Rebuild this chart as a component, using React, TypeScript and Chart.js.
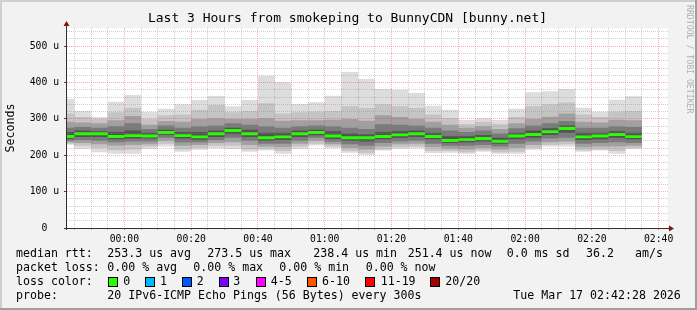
import { useEffect, useRef } from 'react';
import { Chart, registerables } from 'chart.js';

Chart.register(...registerables);

// ---- data (minutes relative to 00:00, values in microseconds) ----
const colStarts = [-17.2, -15, -10, -5, 0, 5, 10, 15, 20, 25, 30, 35, 40, 45, 50, 55, 60, 65, 70, 75, 80, 85, 90, 95, 100, 105, 110, 115, 120, 125, 130, 135, 140, 145, 150];
const colEnd = 155;
const xMin = -17.2;
const xMax = 162.8;

const maxV = [355, 322, 305, 347, 366, 319, 328, 340, 352, 363, 335, 352, 419, 401, 341, 346, 364, 429, 410, 382, 380, 371, 336, 325, 297, 302, 297, 328, 373, 376, 382, 331, 320, 353, 362];
const hi2 = [315, 305, 300, 318, 330, 300, 310, 312, 325, 338, 318, 322, 343, 315, 318, 320, 322, 335, 330, 340, 335, 330, 312, 302, 286, 292, 286, 305, 335, 340, 345, 312, 305, 320, 322];
const hi3 = [292, 290, 288, 296, 308, 284, 294, 292, 300, 302, 300, 300, 302, 295, 296, 296, 298, 300, 295, 310, 305, 300, 292, 284, 276, 280, 272, 288, 300, 306, 315, 292, 290, 298, 296];
const hi4 = [276, 278, 276, 280, 288, 272, 282, 276, 280, 282, 288, 284, 280, 276, 280, 282, 280, 276, 272, 285, 284, 282, 276, 268, 264, 268, 260, 274, 282, 288, 294, 276, 276, 280, 278];
const hi5 = [264, 268, 266, 264, 268, 262, 270, 264, 264, 268, 276, 270, 262, 262, 268, 270, 266, 260, 258, 264, 266, 268, 262, 252, 252, 256, 248, 262, 268, 274, 282, 262, 262, 266, 262];
const median = [251.5, 259, 259, 251.5, 254, 253, 262.6, 254, 250.7, 259, 268, 259, 248, 250.7, 259, 262.6, 253, 248, 248, 251.5, 256, 259, 251.5, 240.6, 243, 246, 238.4, 253, 257, 265, 273.5, 250.7, 253, 257, 251.4];
const lo5 = [245, 250, 250, 244, 246, 246, 256, 246, 243, 250, 258, 250, 240, 242, 250, 255, 245, 240, 238, 244, 248, 250, 244, 234, 236, 238, 232, 244, 248, 256, 262, 242, 244, 248, 244];
const lo4 = [240, 242, 240, 236, 238, 238, 248, 236, 236, 242, 248, 240, 232, 232, 240, 248, 237, 230, 226, 234, 238, 240, 232, 226, 226, 228, 224, 232, 238, 246, 248, 232, 234, 236, 234];
const lo3 = [236, 234, 230, 226, 228, 230, 240, 226, 228, 234, 236, 228, 224, 222, 232, 240, 230, 220, 216, 224, 230, 232, 222, 218, 216, 220, 216, 220, 228, 236, 238, 222, 224, 224, 226];
const lo2 = [232, 226, 220, 214, 216, 224, 232, 216, 220, 226, 226, 216, 218, 212, 224, 232, 224, 212, 206, 216, 222, 224, 212, 212, 208, 214, 208, 210, 220, 228, 230, 214, 216, 212, 220];
const minV = [229, 218, 208, 204, 204, 217, 224, 210, 215, 219, 217, 210, 213, 204, 218, 227, 219, 207, 201, 213, 218, 219, 206, 207, 204, 210, 204, 204, 215, 224, 224, 210, 213, 204, 217];

const yMax = 550;
const medianHalf = 4;

const titleText = 'Last 3 Hours from smokeping to BunnyCDN [bunny.net]';
const yTitle = 'Seconds';
const watermark = 'RRDTOOL / TOBI OETIKER';

const rttTexts = ['median rtt:', '253.3 us avg', '273.5 us max', '238.4 us min', '251.4 us now', '0.0 ms sd', '36.2', 'am/s'];
const lossTexts = ['packet loss:', '0.00 % avg', '0.00 % max', '0.00 % min', '0.00 % now'];
const lossColorTitle = 'loss color:';
const lossLabels = ['0', '1', '2', '3', '4-5', '6-10', '11-19', '20/20'];
const lossColors = ['#26ff00', '#00b8ff', '#0059ff', '#7e00ff', '#ff00ff', '#ff5500', '#ff0000', '#a00000'];
const probeTexts = ['probe:', '20 IPv6-ICMP Echo Pings (56 Bytes) every 300s', 'Tue Mar 17 02:42:28 2026'];

// ---- layout ----
const W = 697;
const H = 310;
const rttX = [16, 107.3, 207.3, 313.3, 407.7, 506.7, 586, 635];
const lossX = [16, 107.3, 193.3, 279.3, 365.7];
const boxX = [108, 145, 182, 219, 256, 307, 365, 430];
const boxLabelX = [123.3, 160, 196.7, 233.3, 270.7, 322, 380.7, 445.3];
const probeX = [16, 107.3, 513.3];
const MONO = '"DejaVu Sans Mono", monospace';

const pad2 = (n: number) => String(n).padStart(2, '0');

export default function App() {
  const ref = useRef<HTMLCanvasElement>(null);

  useEffect(() => {
    document.body.style.margin = '0';
    const canvas = ref.current;
    if (!canvas) return;

    const pts = (arr: number[]) => [
      ...colStarts.map((x, i) => ({ x, y: arr[i] })),
      { x: colEnd, y: arr[arr.length - 1] },
    ];
    const medLo = median.map((m) => m - medianHalf);
    const medHi = median.map((m) => m + medianHalf);

    const base = {
      type: 'line' as const,
      stepped: true,
      pointRadius: 0,
      pointHoverRadius: 0,
      borderWidth: 0,
      borderColor: 'rgba(0,0,0,0)',
    };
    const band = (lo: number[], hi: number[], color: string, order: number) => [
      { ...base, data: pts(lo), fill: false, order },
      { ...base, data: pts(hi), fill: '-1', backgroundColor: color, order },
    ];

    const datasets: any[] = [
      ...band(minV, maxV, '#dddddd', 10),
      ...band(lo2, hi2, '#c4c4c4', 8),
      ...band(lo3, hi3, '#a0a0a0', 6),
      ...band(lo4, hi4, '#7a7a7a', 4),
      ...band(lo5, hi5, '#535353', 2),
      ...band(medLo, medHi, lossColors[0], 0),
    ];

    const xGrid: number[] = [];
    for (let v = -15; v <= 160; v += 5) xGrid.push(v);
    const yGrid: number[] = [];
    for (let v = 0; v <= 540; v += 20) yGrid.push(v);

    const minorGrid = 'rgba(140,140,140,0.42)';
    const majorGrid = 'rgba(230,60,60,0.4)';

    const decor = {
      id: 'decor',
      beforeDraw(chart: any) {
        const { ctx, chartArea: ca } = chart;
        ctx.save();
        ctx.fillStyle = '#f2f2f2';
        ctx.fillRect(0, 0, W, H);
        ctx.fillStyle = '#cfcfcf';
        ctx.fillRect(0, 0, W, 2);
        ctx.fillRect(0, 0, 2, H);
        ctx.fillStyle = '#9e9e9e';
        ctx.fillRect(0, H - 2, W, 2);
        ctx.fillRect(W - 2, 0, 2, H);
        ctx.fillStyle = '#ffffff';
        ctx.fillRect(ca.left, ca.top, ca.right - ca.left, ca.bottom - ca.top);
        ctx.restore();
      },
      afterDraw(chart: any) {
        const { ctx, chartArea: ca } = chart;
        ctx.save();
        // axes
        ctx.strokeStyle = '#303030';
        ctx.lineWidth = 1;
        ctx.beginPath();
        ctx.moveTo(ca.left - 0.5, ca.bottom + 2);
        ctx.lineTo(ca.left - 0.5, ca.top - 3);
        ctx.moveTo(ca.left - 3, ca.bottom + 0.5);
        ctx.lineTo(ca.right + 2, ca.bottom + 0.5);
        ctx.stroke();
        ctx.fillStyle = '#8b1010';
        ctx.beginPath();
        ctx.moveTo(ca.left - 0.5, ca.top - 7);
        ctx.lineTo(ca.left - 3.5, ca.top - 2);
        ctx.lineTo(ca.left + 2.5, ca.top - 2);
        ctx.closePath();
        ctx.fill();
        ctx.beginPath();
        ctx.moveTo(ca.right + 6, ca.bottom + 0.5);
        ctx.lineTo(ca.right + 1, ca.bottom - 2.5);
        ctx.lineTo(ca.right + 1, ca.bottom + 3.5);
        ctx.closePath();
        ctx.fill();

        // title
        ctx.fillStyle = '#000';
        ctx.font = `13px ${MONO}`;
        ctx.textAlign = 'center';
        ctx.textBaseline = 'middle';
        ctx.fillText(titleText, 347.5, 19);

        // y title
        ctx.save();
        ctx.translate(11, 128);
        ctx.rotate(-Math.PI / 2);
        ctx.font = `11.6px ${MONO}`;
        ctx.fillText(yTitle, 0, 0);
        ctx.restore();

        // watermark
        ctx.save();
        ctx.translate(689, 5);
        ctx.rotate(Math.PI / 2);
        ctx.font = `8.2px ${MONO}`;
        ctx.fillStyle = '#b0b0b0';
        ctx.textAlign = 'left';
        ctx.fillText(watermark, 0, 0);
        ctx.restore();

        // legend
        ctx.font = `11.6px ${MONO}`;
        ctx.textAlign = 'left';
        ctx.textBaseline = 'middle';
        ctx.fillStyle = '#000';
        rttTexts.forEach((t, i) => ctx.fillText(t, rttX[i], 254));
        lossTexts.forEach((t, i) => ctx.fillText(t, lossX[i], 268));
        ctx.fillText(lossColorTitle, 16, 282);
        lossLabels.forEach((t, i) => {
          ctx.fillStyle = lossColors[i];
          ctx.fillRect(boxX[i], 277, 10, 10);
          ctx.strokeStyle = '#000';
          ctx.strokeRect(boxX[i] + 0.5, 277.5, 9, 9);
          ctx.fillStyle = '#000';
          ctx.fillText(t, boxLabelX[i], 282);
        });
        probeTexts.forEach((t, i) => ctx.fillText(t, probeX[i], 296));
        ctx.restore();
      },
    };

    const chart = new Chart(canvas, {
      type: 'line',
      data: { datasets },
      options: {
        responsive: false,
        animation: false,
        events: [],
        layout: { padding: { left: 0, right: 29, top: 28, bottom: 62 } },
        plugins: {
          legend: { display: false },
          tooltip: { enabled: false },
          title: { display: false },
        },
        scales: {
          x: {
            type: 'linear',
            min: xMin,
            max: xMax,
            afterBuildTicks: (s: any) => {
              s.ticks = xGrid.map((value) => ({ value }));
            },
            afterFit: (s: any) => {
              s.height = 20;
            },
            grid: {
              z: 1,
              color: (c: any) => (c.tick && c.tick.value % 20 === 0 ? majorGrid : minorGrid),
              tickColor: (c: any) => (c.tick && c.tick.value % 20 === 0 ? 'rgba(220,60,60,0.7)' : 'rgba(140,140,140,0.6)'),
              tickLength: 2,
              drawTicks: true,
            },
            border: { display: false, dash: [1, 1] },
            ticks: {
              autoSkip: false,
              maxRotation: 0,
              padding: 4,
              color: '#000',
              font: { family: MONO, size: 9.75 },
              callback: (v: any) => {
                const n = Number(v);
                if (n % 20 !== 0) return '';
                return `${pad2(Math.floor(n / 60))}:${pad2(n % 60)}`;
              },
            },
          },
          y: {
            type: 'linear',
            min: 0,
            max: yMax,
            afterBuildTicks: (s: any) => {
              s.ticks = yGrid.map((value) => ({ value }));
            },
            afterFit: (s: any) => {
              s.width = 67;
            },
            grid: {
              z: 1,
              color: (c: any) => (c.tick && c.tick.value % 100 === 0 ? majorGrid : minorGrid),
              tickColor: (c: any) => (c.tick && c.tick.value % 100 === 0 ? '#444' : 'rgba(0,0,0,0)'),
              tickLength: 3,
              drawTicks: true,
            },
            border: { display: false, dash: [1, 1] },
            ticks: {
              autoSkip: false,
              padding: 5,
              color: '#000',
              font: { family: MONO, size: 9.75 },
              callback: (v: any) => {
                const n = Number(v);
                if (n % 100 !== 0) return '';
                return n === 0 ? '0  ' : `${n} u`;
              },
            },
          },
        },
      },
      plugins: [decor],
    });

    return () => chart.destroy();
  }, []);

  return (
    <div style={{ position: 'absolute', left: 0, top: 0, width: W, height: H }}>
      <canvas ref={ref} width={W} height={H} style={{ display: 'block' }} />
    </div>
  );
}
